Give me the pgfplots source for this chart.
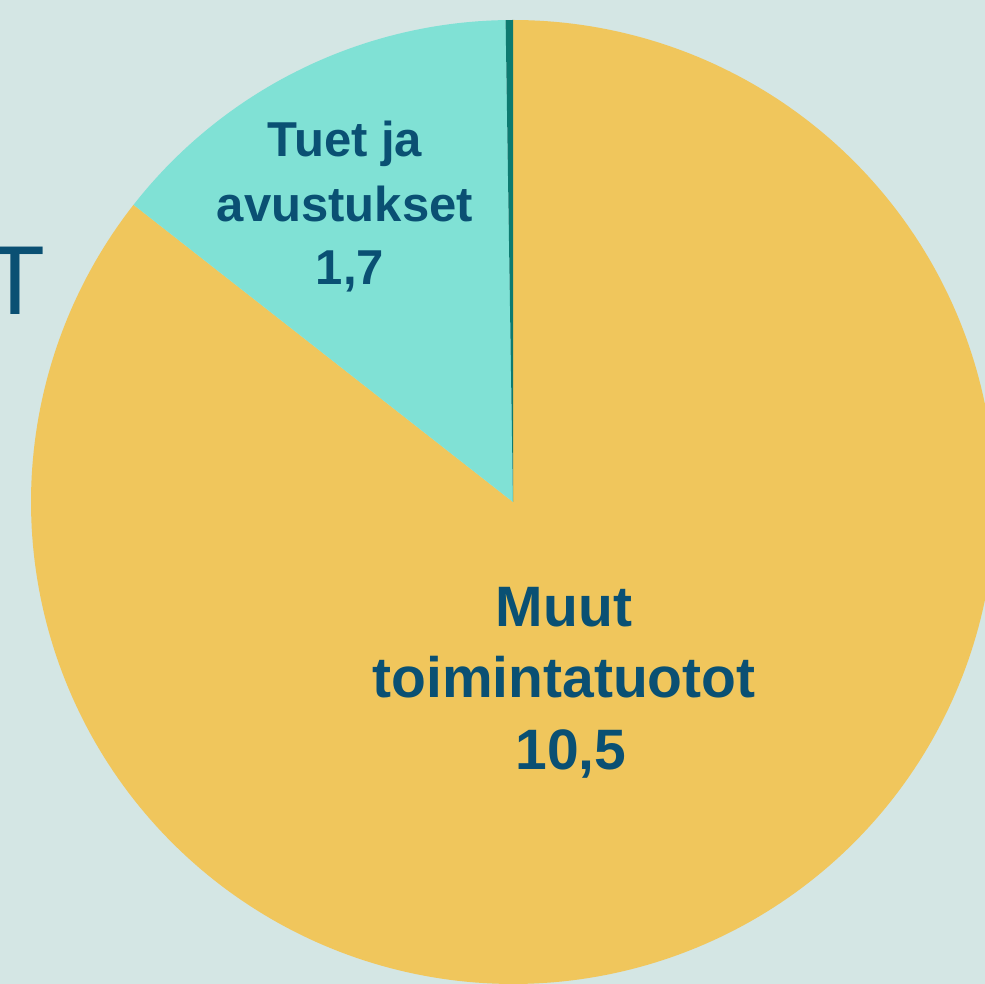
\documentclass[border=0pt]{standalone}
\usepackage{pgfplots}
\usepackage{pgfplotstable}
\pgfplotsset{compat=1.18}
\usepackage{fontspec}
\setmainfont{Liberation Sans}
\definecolor{bgc}{HTML}{D4E6E4}
\definecolor{yel}{HTML}{F0C65C}
\definecolor{tea}{HTML}{80E1D5}
\definecolor{drk}{HTML}{0D7A70}
\definecolor{txt}{HTML}{0A5073}

\pgfplotstableread{
label value
Muut 10.5
Tuet 1.74
Muu 0.03
}\piedata

\begin{document}%
\begin{tikzpicture}
\pgfplotstablegetelem{0}{value}\of\piedata \let\va\pgfplotsretval
\pgfplotstablegetelem{1}{value}\of\piedata \let\vb\pgfplotsretval
\pgfplotstablegetelem{2}{value}\of\piedata \let\vc\pgfplotsretval
\pgfmathsetmacro\total{\va+\vb+\vc}
\pgfmathsetmacro\aA{360*\va/\total}
\pgfmathsetmacro\aB{360*(\va+\vb)/\total}
\fill[bgc] (0,0) rectangle (985pt,984pt);
\begin{axis}[
  at={(0,0)}, anchor=south west,
  x=1pt, y=1pt,
  xmin=-513, xmax=472, ymin=-482, ymax=502,
  hide axis, clip=true,
]
\addplot[fill=yel, draw=none, domain=0:\aA, samples=300, variable=\t]
  ({482*sin(\t)},{482*cos(\t)}) -- (axis cs:0,0) -- cycle;
\addplot[fill=tea, draw=none, domain=\aA:\aB, samples=80, variable=\t]
  ({482*sin(\t)},{482*cos(\t)}) -- (axis cs:0,0) -- cycle;
\addplot[fill=drk, draw=none, domain=\aB:360, samples=5, variable=\t]
  ({482*sin(\t)},{482*cos(\t)}) -- (axis cs:0,0) -- cycle;

\begin{scope}[every node/.style={inner sep=0pt, text=txt, anchor=base, font=\fontsize{49}{60}\selectfont\bfseries}]
\node at (axis cs:-168,345) {Tuet ja};
\node at (axis cs:-168,280) {avustukset};
\node at (axis cs:-163,217) {1,7};
\end{scope}
\begin{scope}[every node/.style={inner sep=0pt, text=txt, anchor=base, font=\fontsize{57}{70}\selectfont\bfseries}]
\node at (axis cs:51,-125) {Muut};
\node at (axis cs:51,-196) {toimintatuotot};
\node at (axis cs:58,-268) {10,5};
\end{scope}
\node[inner sep=0pt, text=txt, anchor=base east, font=\fontsize{98}{110}\selectfont] at (axis cs:-467,187) {T};
\end{axis}
\pgfresetboundingbox
\useasboundingbox (0,0) rectangle (985pt,984pt);
\end{tikzpicture}%
\end{document}
